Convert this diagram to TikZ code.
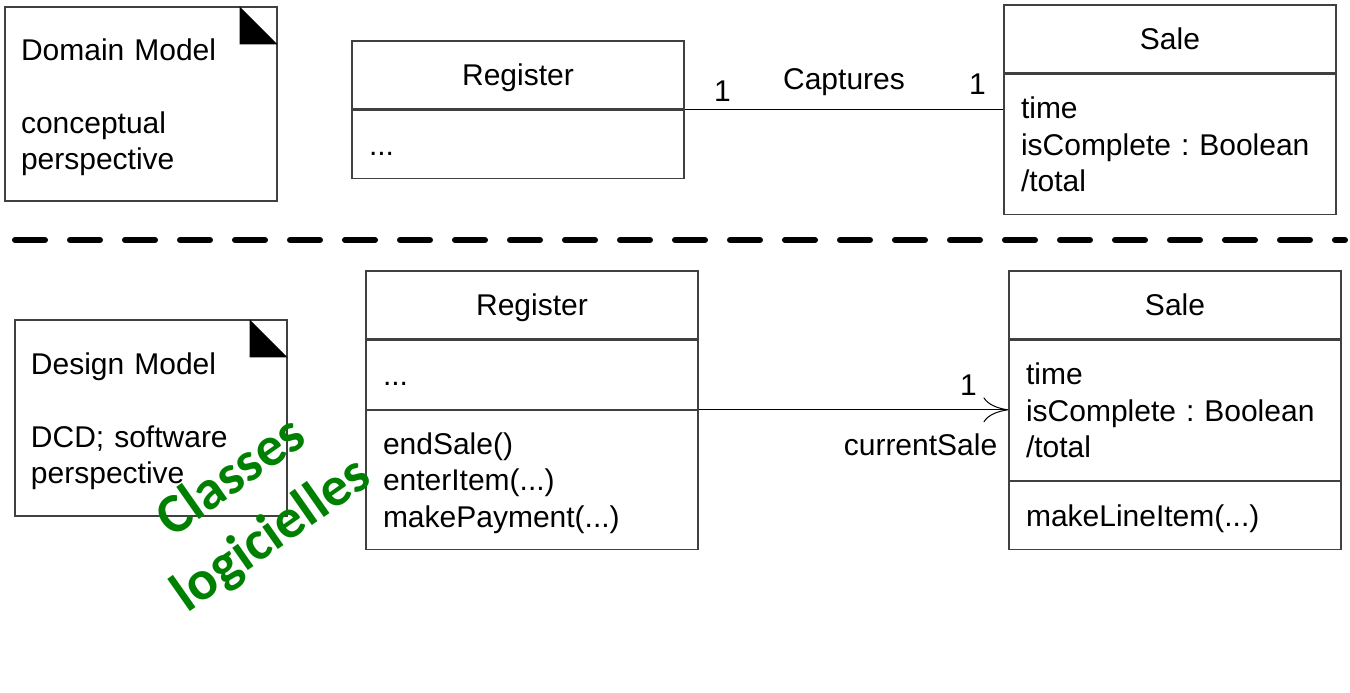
\documentclass[tikz,border=0pt]{standalone}
\usepackage{fontspec}
\setmainfont{Liberation Sans}
\newfontfamily\calfont{Carlito}
\usetikzlibrary{positioning,arrows.meta}
\definecolor{stampgreen}{RGB}{0,128,0}
\newcommand{\umlfont}{\fontsize{15pt}{18.25pt}\selectfont}
\frenchspacing

\begin{document}
\begin{tikzpicture}[x=0.5pt,y=-0.5pt,font=\umlfont,
    >={Computer Modern Rightarrow[length=12.5pt,width=12.5pt]},
    boxtext/.style={execute at begin node={\rule{0pt}{16pt}},execute at end node={\rule[-5.2pt]{0pt}{5.2pt}}},
    classname/.style={boxtext,draw=black!75,line width=0.6pt,minimum width=166pt,minimum height=34pt,inner sep=0pt},
    classpart/.style={boxtext,draw=black!75,line width=0.6pt,text width=149pt,inner xsep=8.5pt,inner ysep=0pt,align=left},
    note/.style={boxtext,draw=black!75,line width=0.6pt,text width=120pt,inner xsep=8pt,inner ysep=0pt,align=left},
    link/.style={line width=0.5pt}]
  \useasboundingbox (0,0) rectangle (1350,692);

  % conceptual level
  \node[note,minimum height=97pt] (dm) at (141,104) {Domain Model\\[18.25pt]conceptual\\perspective};
  \node[classname] (regA) at (518,75) {Register};
  \node[classpart,minimum height=34pt,below=0pt of regA] (regAattr) {...};
  \node[classname] (saleA) at (1170,39) {Sale};
  \node[classpart,minimum height=70pt,below=0pt of saleA] (saleAattr) {time\\isComplete : Boolean\\/total};

  \draw[link] (regAattr.north east) -- (regAattr.north east -| saleAattr.west)
    node[pos=0.119,yshift=9pt] {1}
    node[midway,yshift=13.5pt] {Captures}
    node[pos=0.919,yshift=12.5pt] {1};

  \draw[line width=3pt,line cap=round,dash pattern=on 15pt off 12.5pt] (15,240) -- (1345,240);

  % design level
  \node[note,minimum height=98pt] (dsgn) at (151,418) {Design Model\\[18.25pt]DCD; software\\perspective};
  \node[classname] (regB) at (532,305) {Register};
  \node[classpart,minimum height=34.5pt,below=0pt of regB] (regBattr) {...};
  \node[classpart,minimum height=69.5pt,below=0pt of regBattr] (regBops) {endSale()\\enterItem(...)\\makePayment(...)};
  \node[classname] (saleB) at (1175,305) {Sale};
  \node[classpart,minimum height=70pt,below=0pt of saleB] (saleBattr) {time\\isComplete : Boolean\\/total};
  \node[classpart,minimum height=34pt,below=0pt of saleBattr] (saleBops) {makeLineItem(...)};

  \draw[link,->] (regBops.north east) -- (regBops.north east -| saleBattr.west)
    node[pos=0.871,yshift=12.5pt] {1}
    node[pos=1,anchor=east,xshift=-2pt,yshift=-17.5pt] {currentSale};

  % folded corners
  \foreach \n in {dm,dsgn}
    \fill ([xshift=-19pt]\n.north east) -- ([yshift=-19pt]\n.north east)
      -- ([xshift=-19pt,yshift=-19pt]\n.north east) -- cycle;

  \node[rotate=35,align=center,text=stampgreen,font=\calfont\bfseries\fontsize{28pt}{35pt}\selectfont] (stamp) at (252,507) {Classes\\logicielles};
\end{tikzpicture}
\end{document}
